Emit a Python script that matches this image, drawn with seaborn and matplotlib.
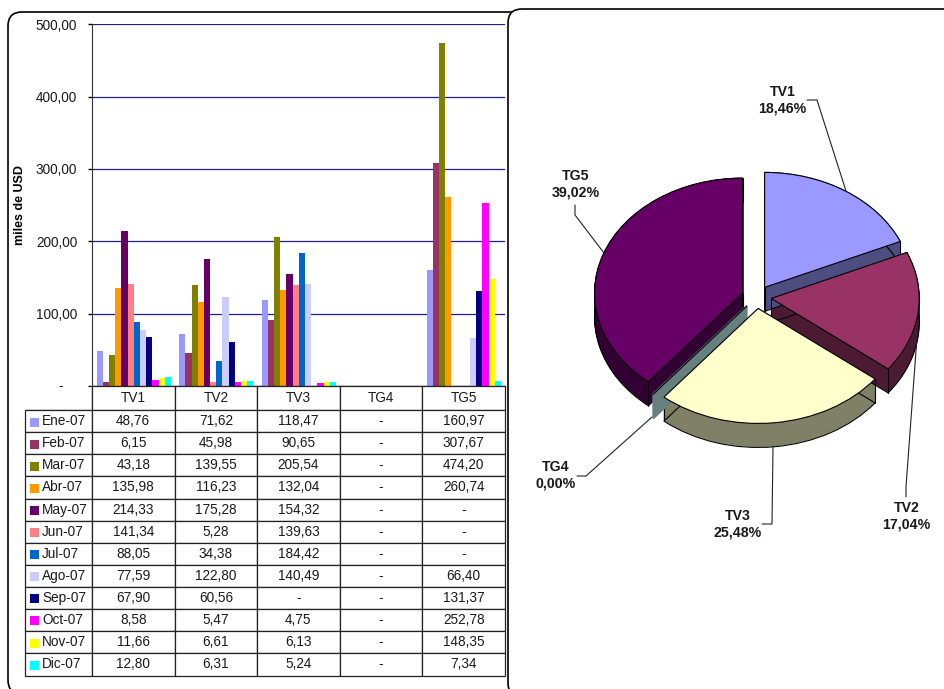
import matplotlib
matplotlib.use("Agg")
import matplotlib.pyplot as plt
from matplotlib.colors import to_rgb
from matplotlib.patches import FancyBboxPatch, Rectangle
import numpy as np
import pandas as pd
import seaborn as sns

nan = np.nan

tramos = ["TV1", "TV2", "TV3", "TG4", "TG5"]
meses = ["Ene-07", "Feb-07", "Mar-07", "Abr-07", "May-07", "Jun-07",
         "Jul-07", "Ago-07", "Sep-07", "Oct-07", "Nov-07", "Dic-07"]
tv1 = [48.76, 6.15, 43.18, 135.98, 214.33, 141.34, 88.05, 77.59, 67.90, 8.58, 11.66, 12.80]
tv2 = [71.62, 45.98, 139.55, 116.23, 175.28, 5.28, 34.38, 122.80, 60.56, 5.47, 6.61, 6.31]
tv3 = [118.47, 90.65, 205.54, 132.04, 154.32, 139.63, 184.42, 140.49, nan, 4.75, 6.13, 5.24]
tg4 = [nan] * 12
tg5 = [160.97, 307.67, 474.20, 260.74, nan, nan, nan, 66.40, 131.37, 252.78, 148.35, 7.34]
colores_mes = ["#9999FF", "#993366", "#808000", "#FF9900", "#660066", "#FF8080",
               "#0066CC", "#CCCCFF", "#000080", "#FF00FF", "#FFFF00", "#00FFFF"]

tramos_pie = ["TV1", "TV2", "TV3", "TG4", "TG5"]
pct_pie = [18.46, 17.04, 25.48, 0.00, 39.02]
colores_pie = ["#9999FF", "#993366", "#FFFFCC", "#CCFFFF", "#660066"]
y_ticks = [0, 100, 200, 300, 400, 500]

W, H = 945, 689


def px_axes(fig, left, top, right, bottom, **kw):
    return fig.add_axes([left / W, 1 - bottom / H, (right - left) / W, (bottom - top) / H], **kw)


def fmt(v):
    return "-" if np.isnan(v) else f"{v:.2f}".replace(".", ",")


sns.set_style("white")
plt.rcParams["font.family"] = ["Liberation Sans", "DejaVu Sans"]
TXT = "#1a1a1a"

fig = plt.figure(figsize=(W / 100, H / 100), dpi=100, facecolor="white")

# rounded panels behind everything
back = px_axes(fig, 0, 0, W, H, zorder=0)
back.set_xlim(0, W)
back.set_ylim(H, 0)
back.axis("off")
back.add_patch(FancyBboxPatch((8, 12), 540, 682, boxstyle="round,pad=0,rounding_size=14",
                              fc="white", ec="black", lw=1.2))
back.add_patch(FancyBboxPatch((508, 9), 480, 688, boxstyle="round,pad=0,rounding_size=14",
                              fc="white", ec="black", lw=1.2))

# bars
series = [tv1, tv2, tv3, tg4, tg5]
df = pd.DataFrame({
    "tramo": np.repeat(tramos, len(meses)),
    "mes": meses * len(tramos),
    "valor": np.nan_to_num(np.concatenate(series)),
})
ax = px_axes(fig, 92.5, 24.3, 505, 386, zorder=1)
ax.patch.set_alpha(0)
sns.barplot(data=df, x="tramo", y="valor", hue="mes", order=tramos, hue_order=meses,
            palette=colores_mes, saturation=1, width=0.9, gap=0, linewidth=0,
            legend=False, ax=ax)
ax.set_xlim(-0.5, 4.5)
ax.set_ylim(0, 500)
ax.set_yticks(y_ticks)
ax.set_yticklabels(["" if t == 0 else fmt(float(t)) for t in y_ticks], fontsize=9.8, color=TXT)
ax.annotate("-", (0, 0), xycoords="axes fraction", xytext=(-32, 0), textcoords="offset pixels",
            ha="center", va="center", fontsize=9.8, color=TXT)
ax.tick_params(axis="y", left=True, length=3, width=1, color="black", pad=8)
ax.tick_params(axis="x", bottom=False, labelbottom=False)
ax.set_xlabel("")
ax.set_ylabel("miles de USD", fontsize=9, fontweight="bold", color="black", labelpad=0)
ax.yaxis.set_label_coords(-66.5 / 412.5, 0.5)
ax.yaxis.grid(True, color="#1f1f8f", lw=0.9)
ax.set_axisbelow(True)
for s in ("top", "right"):
    ax.spines[s].set_visible(False)
ax.spines["left"].set_color("#333333")
ax.spines["bottom"].set_color("black")

# data table
ta = px_axes(fig, 25, 386, 505, 675.5, zorder=2)
ta.set_xlim(25, 505)
ta.set_ylim(675.5, 386)
ta.axis("off")
filas = [[""] + tramos]
for i, m in enumerate(meses):
    filas.append([m] + [fmt(s[i]) for s in series])
anchos = [67, 82.6, 82.6, 82.6, 82.6, 82.6]
tabla = ta.table(cellText=filas, bbox=[0, 0, 1, 1], cellLoc="center", colWidths=[a / 480 for a in anchos])
tabla.auto_set_font_size(False)
tabla.set_fontsize(9.8)
for (r, c), cell in tabla.get_celld().items():
    cell.set_height((24 if r == 0 else 22.1) / 289.5)
    cell.set_edgecolor("#222222")
    cell.set_linewidth(0.9)
    cell.get_text().set_color(TXT)
    if c == 0:
        cell.get_text().set_ha("left")
        cell.PAD = 17 / 67
        cell._loc = "left"
    if r == 0 and c == 0:
        cell.visible_edges = "BR"
    if r > 0 and c == 0:
        y_c = 410 + (r - 0.5) * 22.1
        ta.add_patch(Rectangle((30, y_c - 3.5), 9, 9, fc=colores_mes[r - 1], ec="none", zorder=5))

# 3D looking pie, made of stacked pies
cx, cy, rx, ry = 756.5, 297, 148, 115
span = 1.45
pie = px_axes(fig, cx - span * rx, cy - span * ry, cx + span * rx, cy + span * ry, zorder=3)
pie.patch.set_alpha(0)
lados = [tuple(v * 0.5 for v in to_rgb(c)) for c in colores_pie]
fondo = 24
paso = 1 / ry
explode = [0.1] * len(pct_pie)
for k in range(fondo + 1):
    w, _ = pie.pie(pct_pie, explode=explode, colors=lados, startangle=90, counterclock=False,
                   center=(0, -k * paso), radius=1, normalize=True,
                   wedgeprops=dict(lw=0.7, edgecolor=lados[0]))
    for nombre, wd, lado in zip(tramos_pie, w, lados):
        wd.set_edgecolor(lado)
        wd.set_zorder(2)
        if nombre == "TG4":
            # the empty slice is only a thin wall, it sits over the TG5 side
            wd.set_linewidth(1.6)
            wd.set_zorder(4.5)
        elif k == fondo:
            wd.set_edgecolor("black")
            wd.set_facecolor("none")
            wd.set_linewidth(0.8)
            wd.set_zorder(3)
w, _ = pie.pie(pct_pie, explode=explode, colors=colores_pie, startangle=90, counterclock=False,
               radius=1, normalize=True, wedgeprops=dict(lw=0.8, edgecolor="black"))
for wd in w:
    wd.set_zorder(5)
    if wd.theta1 == wd.theta2:
        continue
    for ang in (wd.theta1, wd.theta2):
        x = wd.center[0] + wd.r * np.cos(np.radians(ang))
        y = wd.center[1] + wd.r * np.sin(np.radians(ang))
        pie.plot([x, x], [y, y - fondo * paso], color="black", lw=0.8, zorder=4)
    pie.plot([wd.center[0]] * 2, [wd.center[1], wd.center[1] - fondo * paso],
             color="black", lw=0.8, zorder=4)
pie.set_aspect("auto")
pie.set_xlim(-span, span)
pie.set_ylim(-span, span)
pie.axis("off")

# pie labels and their leader lines
top = px_axes(fig, 0, 0, W, H, zorder=6)
top.set_xlim(0, W)
top.set_ylim(H, 0)
top.axis("off")
leaders = [
    [(807, 100), (817, 100), (846, 191)],
    [(917, 337), (906, 487), (906, 497)],
    [(773, 446), (772, 524), (762, 524)],
    [(652, 417), (586, 476), (577, 476)],
    [(575, 205), (575, 215), (604, 253)],
]
pos_etq = [(782.5, 100), (906.5, 516), (737.5, 524), (556, 475), (576, 184)]
for nombre, p, (lx, ly), linea in zip(tramos_pie, pct_pie, pos_etq, leaders):
    top.text(lx, ly, f"{nombre}\n{p:.2f}%".replace(".", ","), ha="center", va="center",
             fontsize=10.2, fontweight="bold", color=TXT, linespacing=1.25)
    top.plot(*zip(*linea), color="#222222", lw=0.8)

fig.savefig("out.png", dpi=100)
plt.close(fig)
